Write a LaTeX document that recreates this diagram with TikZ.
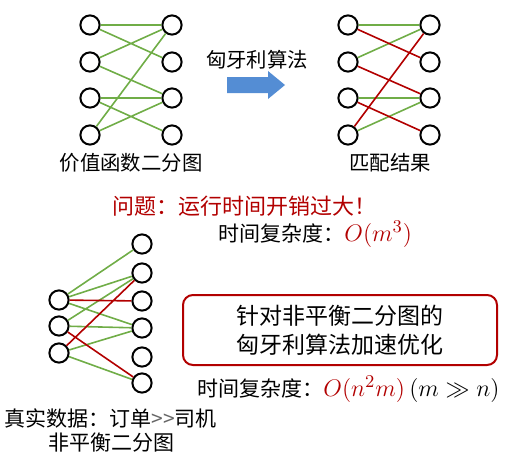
\documentclass[tikz,border=0pt]{standalone}
\usepackage[no-math]{fontspec}
\setmainfont{Noto Sans CJK SC}
\usepackage{amssymb}
\usetikzlibrary{positioning}
\definecolor{hgreen}{RGB}{112,173,71}
\definecolor{hred}{RGB}{178,0,0}
\definecolor{hblue}{RGB}{84,141,212}

\begin{document}
\begin{tikzpicture}[
    x=0.5pt, y=-0.5pt,
    vtx/.style={circle, draw=black, fill=white, line width=1pt, minimum size=9.6pt, inner sep=0pt},
    gedge/.style={draw=hgreen, line width=0.8pt},
    redge/.style={draw=hred, line width=0.8pt},
    lbl/.style={inner sep=0pt, font=\fontsize{10.2}{12}\selectfont},
    txt/.style={inner sep=0pt, anchor=west, font=\fontsize{10.5}{13}\selectfont},
    hbox/.style={rectangle, rounded corners=5pt, draw=hred, line width=1pt, align=center, minimum width=157pt, minimum height=35pt, font=\fontsize{11.5}{14.5}\selectfont}
  ]
    \useasboundingbox (0,0) rectangle (512,460);

    % value graph
    \node[vtx] (vl1) at (90,25) {};
    \node[vtx] (vl2) at (90,62) {};
    \node[vtx] (vl3) at (90,98) {};
    \node[vtx] (vl4) at (90,135) {};
    \node[vtx] (vr1) at (172,25) {};
    \node[vtx] (vr2) at (172,62) {};
    \node[vtx] (vr3) at (172,98) {};
    \node[vtx] (vr4) at (172,135) {};
    \draw[gedge] (vl1) -- (vr1) (vl1) -- (vr2) (vl2) -- (vr1) (vl2) -- (vr3)
                 (vl3) -- (vr3) (vl3) -- (vr4) (vl4) -- (vr1) (vl4) -- (vr3);
    \node[lbl] (vcap) at (131,163) {价值函数二分图};

    % hungarian step
    \node[lbl] (algo) at (257,60) {匈牙利算法};
    \fill[hblue] (227,77) -- (268,77) -- (268,71) -- (285,85) -- (268,99) -- (268,93) -- (227,93) -- cycle;

    % matching result
    \node[vtx] (ml1) at (348,25) {};
    \node[vtx] (ml2) at (348,62) {};
    \node[vtx] (ml3) at (348,98) {};
    \node[vtx] (ml4) at (348,135) {};
    \node[vtx] (mr1) at (430,25) {};
    \node[vtx] (mr2) at (430,62) {};
    \node[vtx] (mr3) at (430,98) {};
    \node[vtx] (mr4) at (430,135) {};
    \draw[gedge] (ml1) -- (mr1) (ml2) -- (mr1) (ml3) -- (mr3) (ml4) -- (mr3);
    \draw[redge] (ml1) -- (mr2) (ml2) -- (mr3) (ml3) -- (mr4) (ml4) -- (mr1);
    \node[lbl] (mcap) at (390,163) {匹配结果};

    % problem text
    \node[txt, text=hred, font=\fontsize{11}{13}\selectfont] (prob) at (112,206) {问题：运行时间开销过大！};
    \node[txt] (cplx) at (218,234) {时间复杂度：\textcolor{hred}{\fontsize{12.5}{14}\selectfont$O(m^3)$}};

    % unbalanced graph
    \node[vtx] (bl1) at (59,300) {};
    \node[vtx] (bl2) at (59,326) {};
    \node[vtx] (bl3) at (59,353) {};
    \node[vtx] (br1) at (142,244) {};
    \node[vtx] (br2) at (142,273) {};
    \node[vtx] (br3) at (142,301) {};
    \node[vtx] (br4) at (142,328) {};
    \node[vtx] (br5) at (142,357) {};
    \node[vtx] (br6) at (142,383) {};
    \draw[gedge] (bl1) -- (br1) (bl1) -- (br2) (bl1) -- (br4) (bl2) -- (br2)
                 (bl2) -- (br4) (bl3) -- (br4) (bl3) -- (br6);
    \draw[redge] (bl1) -- (br3) (bl2) -- (br6) (bl3) -- (br2);

    % speed-up box
    \node[hbox] (speed) at (340,330) {针对非平衡二分图的\\匈牙利算法加速优化};
    \node[txt] (cplx2) at (197,389) {时间复杂度：\fontsize{12.5}{14}\selectfont\textcolor{hred}{$O\big(n^2m\big)$}\,$(m\gg n)$};

    % data note
    \node[txt] (data) at (4,418) {真实数据：订单\textcolor{black!60}{>\kern0pt>}司机};
    \node[lbl, font=\fontsize{10.5}{13}\selectfont] (ucap) at (111,443) {非平衡二分图};
  \end{tikzpicture}
\end{document}
